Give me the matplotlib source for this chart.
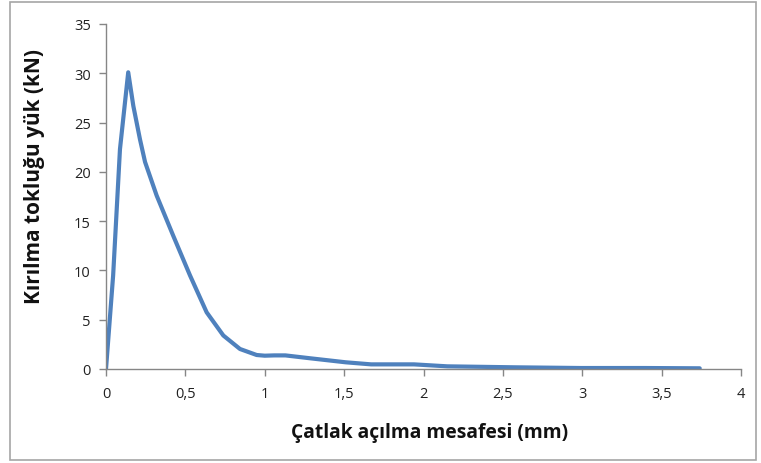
import matplotlib
matplotlib.use("Agg")
import matplotlib.pyplot as plt
from matplotlib.patches import Rectangle
from matplotlib.ticker import FuncFormatter, MultipleLocator

# Data (crack opening mm, load kN)
opening_mm = [0.0, 0.045, 0.088, 0.14, 0.172, 0.214, 0.246, 0.319, 0.424, 0.529,
              0.634, 0.739, 0.844, 0.949, 1.0, 1.06, 1.13, 1.29, 1.51, 1.67,
              1.94, 2.15, 2.58, 2.99, 3.39, 3.74]
load_kN = [0.0, 9.5, 22.3, 30.1, 26.7, 23.3, 21.0, 17.6, 13.5, 9.5,
           5.75, 3.4, 2.03, 1.42, 1.35, 1.38, 1.38, 1.08, 0.68, 0.47,
           0.47, 0.27, 0.17, 0.1, 0.1, 0.07]

x_label = "Çatlak açılma mesafesi (mm)"
y_label = "Kırılma tokluğu yük (kN)"

plt.rcParams['font.family'] = ['Open Sans', 'DejaVu Sans']

W, H = 761, 464
fig = plt.figure(figsize=(W / 100, H / 100), dpi=100)
ax = fig.add_axes([106/W, 1-370/H, (741-106)/W, (370-25)/H])

fig.patches.append(Rectangle((10/W, 3/H), (756-10)/W, (461-3)/H,
                             transform=fig.transFigure, fill=False,
                             edgecolor='#a6a6a6', linewidth=1.2))

ax.plot(opening_mm, load_kN, color='#4f81bd', linewidth=3.0,
        solid_joinstyle='round', solid_capstyle='round')

ax.set_xlim(0, 4)
ax.set_ylim(0, 35)
ax.xaxis.set_major_locator(MultipleLocator(0.5))
ax.yaxis.set_major_locator(MultipleLocator(5))
fmt = FuncFormatter(lambda v, p: ("%g" % v).replace('.', ','))
ax.xaxis.set_major_formatter(fmt)
ax.yaxis.set_major_formatter(fmt)

for s in ['top', 'right']:
    ax.spines[s].set_visible(False)
for s in ['left', 'bottom']:
    ax.spines[s].set_color('#868686')
    ax.spines[s].set_linewidth(1.0)
ax.tick_params(axis='both', direction='out', length=5, width=1.0,
               color='#868686', labelsize=10.5, labelcolor='#222222')
ax.tick_params(axis='x', pad=7)
ax.tick_params(axis='y', pad=6)

fig.text(430/W, 1-433/H, x_label, fontsize=13.9, fontweight='bold',
         ha='center', va='center', color='#111111')
fig.text(35/W, 1-177/H, y_label, fontsize=15.0, fontweight='bold',
         rotation=90, ha='center', va='center', color='#111111')

fig.savefig("out.png", dpi=100, facecolor='white')
